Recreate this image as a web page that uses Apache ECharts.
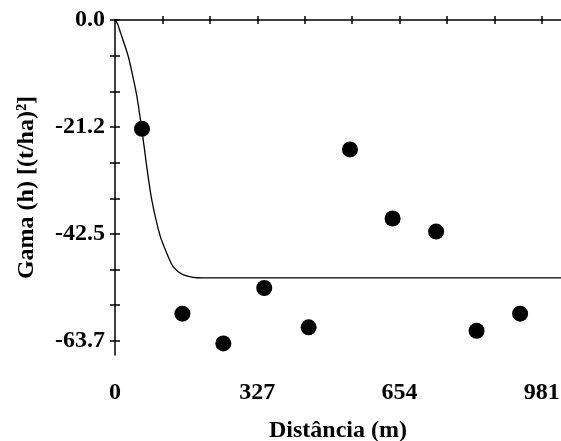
<!DOCTYPE html>
<html>
<head>
<meta charset="utf-8">
<script src="https://cdn.jsdelivr.net/npm/echarts@6/dist/echarts.min.js"></script>
<style>
  html, body { margin: 0; padding: 0; background: #fff; }
  #chart { width: 561px; height: 441px; }
</style>
</head>
<body>
<div id="chart"></div>
<script>
// pontos experimentais do semivariograma
const pointsX = [62, 155, 249, 343, 445, 540, 638, 738, 831, 931]
const pointsY = [-21.6, -58.3, -64.2, -53.2, -61.0, -25.7, -39.4, -42.0, -61.7, -58.3]

// modelo ajustado
const modelX = [0, 6, 13, 22, 31, 42, 50, 61.5, 72, 84.5, 103.6, 120, 134, 155, 180, 200, 1025]
const modelY = [0, -0.8, -2.6, -4.9, -7.4, -11.6, -15, -21.6, -28.5, -35.7, -42.8, -46.5, -49, -50.5, -51.1, -51.2, -51.2]

// marcas dos eixos
const xTickValues = [109, 218, 327, 436, 545, 654, 763, 872, 981]
const xLabelValues = [0, 327, 654, 981]
const yTickValues = [0, -7.08, -14.16, -21.23, -28.31, -35.39, -42.47, -49.54, -56.62, -63.7]
const yLabelValues = [0, -21.23, -42.47, -63.7]

const font = 'Liberation Serif'
const lineStyle = { color: '#000', width: 1.5 }

const chart = echarts.init(document.getElementById('chart'))
chart.setOption({
  backgroundColor: '#fff',
  animation: false,
  grid: { left: 115, top: 20, right: 0, bottom: 86, outerBoundsMode: 'none' },
  xAxis: [
    { // linha superior, marcas para fora
      type: 'value', position: 'top', min: 0, max: 1025,
      axisLine: { show: true, lineStyle: lineStyle },
      axisTick: { show: true, inside: false, length: 4, customValues: xTickValues, lineStyle: lineStyle },
      axisLabel: { show: false },
      splitLine: { show: false }
    },
    { // marcas para dentro
      type: 'value', position: 'top', min: 0, max: 1025,
      axisLine: { show: false },
      axisTick: { show: true, inside: true, length: 4, customValues: xTickValues, lineStyle: lineStyle },
      axisLabel: { show: false },
      splitLine: { show: false }
    },
    { // rótulos embaixo
      type: 'value', position: 'bottom', min: 0, max: 1025,
      axisLine: { show: false },
      axisTick: { show: false },
      splitLine: { show: false },
      axisLabel: {
        customValues: xLabelValues, margin: 26,
        color: '#000', fontFamily: font, fontWeight: 'bold', fontSize: 24
      },
      name: 'Distância (m)', nameLocation: 'middle', nameGap: 64,
      nameTextStyle: { color: '#000', fontFamily: font, fontWeight: 'bold', fontSize: 24 }
    }
  ],
  yAxis: [
    {
      type: 'value', min: -66.5, max: 0,
      axisLine: { show: true, lineStyle: lineStyle },
      axisTick: { show: true, inside: false, length: 5, customValues: yTickValues, lineStyle: lineStyle },
      splitLine: { show: false },
      axisLabel: {
        customValues: yLabelValues, margin: 10,
        color: '#000', fontFamily: font, fontWeight: 'bold', fontSize: 24,
        formatter: function(v) { return v.toFixed(1) }
      },
      name: 'Gama (h) [(t/ha)²]', nameLocation: 'middle', nameRotate: 90, nameGap: 76,
      nameTextStyle: { color: '#000', fontFamily: font, fontWeight: 'bold', fontSize: 24 }
    },
    {
      type: 'value', min: -66.5, max: 0, position: 'left',
      axisLine: { show: false },
      axisTick: { show: true, inside: true, length: 5, customValues: yTickValues, lineStyle: lineStyle },
      axisLabel: { show: false },
      splitLine: { show: false }
    }
  ],
  series: [
    {
      type: 'line',
      xAxisIndex: 0, yAxisIndex: 0,
      data: modelX.map((x, i) => [x, modelY[i]]),
      smooth: 0.3,
      showSymbol: false,
      lineStyle: { color: '#000', width: 1.3 }
    },
    {
      type: 'scatter',
      xAxisIndex: 0, yAxisIndex: 0,
      data: pointsX.map((x, i) => [x, pointsY[i]]),
      symbol: 'circle',
      symbolSize: 16,
      itemStyle: { color: '#000', opacity: 1 }
    }
  ]
})
</script>
</body>
</html>
